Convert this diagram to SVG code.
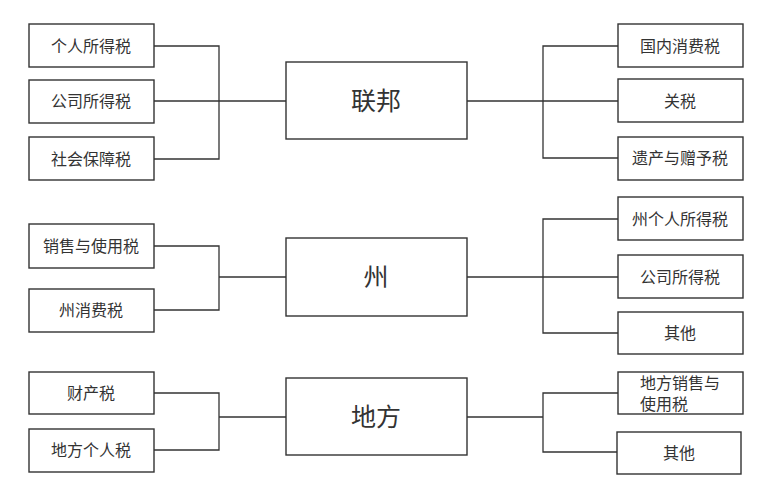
<svg xmlns="http://www.w3.org/2000/svg" width="766" height="493" viewBox="0 0 766 493">
<style>
.box{fill:#fff;stroke:#333;stroke-width:1.4}
.t{font-family:"Liberation Serif","Noto Sans CJK SC",serif;font-size:16px;fill:#333;text-anchor:middle;dominant-baseline:central}
.big{font-size:25px}
.tl{text-anchor:start}
#connectors path{fill:none;stroke:#333;stroke-width:1.3}
</style>
<rect width="766" height="493" fill="#fff"/>
<g id="connectors">
<path d="M154,46H219V159H154M154,101H286"/>
<path d="M467,101H543M618,46H543V158H618M543,101H618"/>
<path d="M154,246H219V310H154M219,277H286"/>
<path d="M467,277H618M618,219H543V333H618"/>
<path d="M154,393H219V450H154M219,417H286"/>
<path d="M467,417H543M618,393H543V452H618"/>
</g>
<g id="fed"><rect class="box" x="286" y="62" width="181" height="77"/><text class="t big" x="376" y="101">联邦</text></g>
<g id="state"><rect class="box" x="286" y="238" width="181" height="78"/><text class="t big" x="376" y="277">州</text></g>
<g id="local"><rect class="box" x="286" y="378" width="181" height="77"/><text class="t big" x="376" y="417">地方</text></g>
<g id="l1"><rect class="box" x="29" y="24" width="125" height="43"/><text class="t" x="91" y="46">个人所得税</text></g>
<g id="l2"><rect class="box" x="29" y="80" width="125" height="43"/><text class="t" x="91" y="101">公司所得税</text></g>
<g id="l3"><rect class="box" x="29" y="137" width="125" height="43"/><text class="t" x="91" y="159">社会保障税</text></g>
<g id="r1"><rect class="box" x="618" y="24" width="125" height="43"/><text class="t" x="680" y="46">国内消费税</text></g>
<g id="r2"><rect class="box" x="618" y="79" width="125" height="43"/><text class="t" x="680" y="101">关税</text></g>
<g id="r3"><rect class="box" x="618" y="137" width="125" height="43"/><text class="t" x="680" y="158">遗产与赠予税</text></g>
<g id="sl1"><rect class="box" x="29" y="224" width="125" height="44"/><text class="t" x="91" y="246">销售与使用税</text></g>
<g id="sl2"><rect class="box" x="29" y="289" width="125" height="43"/><text class="t" x="91" y="310">州消费税</text></g>
<g id="sr1"><rect class="box" x="618" y="197" width="125" height="43"/><text class="t" x="680" y="219">州个人所得税</text></g>
<g id="sr2"><rect class="box" x="618" y="255" width="125" height="43"/><text class="t" x="680" y="277">公司所得税</text></g>
<g id="sr3"><rect class="box" x="618" y="312" width="125" height="42"/><text class="t" x="680" y="333">其他</text></g>
<g id="ll1"><rect class="box" x="29" y="372" width="125" height="42"/><text class="t" x="91" y="393">财产税</text></g>
<g id="ll2"><rect class="box" x="29" y="429" width="125" height="43"/><text class="t" x="91" y="450">地方个人税</text></g>
<g id="lr1"><rect class="box" x="618" y="372" width="125" height="42"/><text class="t tl" x="640" y="383">地方销售与</text><text class="t tl" x="640" y="404">使用税</text></g>
<g id="lr2"><rect class="box" x="617" y="432" width="124" height="42"/><text class="t" x="679" y="453">其他</text></g>
</svg>
